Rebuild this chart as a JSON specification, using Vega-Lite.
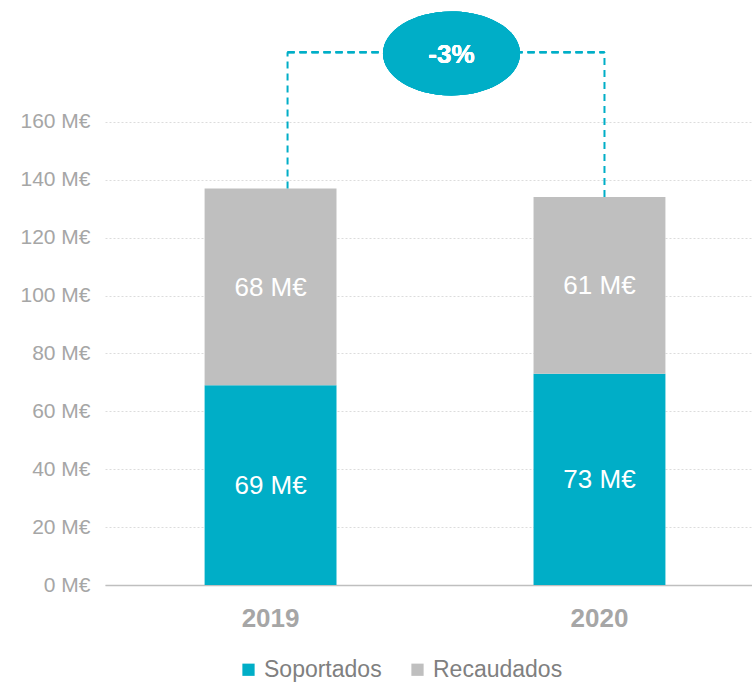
{
  "$schema": "https://vega.github.io/schema/vega-lite/v6.json",
  "autosize": {"type": "none"},
  "width": 647,
  "height": 579,
  "padding": {"left": 105, "top": 6, "right": 0, "bottom": 97},
  "background": "white",
  "config": {
    "font": "Liberation Sans",
    "view": {"stroke": null}
  },
  "data": {
    "values": [
      {"year": "2019", "serie": "Soportados", "value": 69},
      {"year": "2019", "serie": "Recaudados", "value": 68},
      {"year": "2020", "serie": "Soportados", "value": 73},
      {"year": "2020", "serie": "Recaudados", "value": 61}
    ]
  },
  "transform": [
    {"stack": "value", "groupby": ["year"], "sort": [{"field": "serie", "order": "descending"}], "as": ["y0", "y1"]},
    {"calculate": "(datum.y0 + datum.y1) / 2", "as": "mid"},
    {"calculate": "datum.value + ' M€'", "as": "label"}
  ],
  "encoding": {
    "x": {
      "field": "year", "type": "nominal",
      "scale": {"paddingInner": 0.599, "paddingOuter": 0.283, "align": 0.535},
      "axis": {
        "title": null, "labelAngle": 0, "labelFontSize": 26, "labelFontWeight": "bold",
        "labelColor": "#a6a6a6", "labelPadding": 20, "ticks": false,
        "domainColor": "#bfbfbf", "domainWidth": 1.5, "grid": false
      }
    }
  },
  "layer": [
    {
      "mark": {"type": "bar"},
      "encoding": {
        "y": {
          "field": "y0", "type": "quantitative",
          "scale": {"domain": [0, 200], "nice": false, "zero": true},
          "axis": {
            "title": null, "values": [0, 20, 40, 60, 80, 100, 120, 140, 160],
            "labelExpr": "datum.value + ' M€'", "labelFontSize": 21, "labelColor": "#a6a6a6",
            "labelPadding": 15, "ticks": false, "domain": false,
            "grid": true, "gridColor": "#dcdcdc", "gridDash": [2, 2], "gridWidth": 1
          }
        },
        "y2": {"field": "y1"},
        "color": {
          "field": "serie", "type": "nominal",
          "scale": {"domain": ["Soportados", "Recaudados"], "range": ["#00AEC7", "#BFBFBF"]},
          "legend": {
            "title": null, "orient": "none", "direction": "horizontal",
            "legendX": 132, "legendY": 652, "symbolType": "square", "symbolSize": 150,
            "symbolStrokeWidth": 0, "labelFontSize": 23, "labelColor": "#808080",
            "labelOffset": 4, "columnPadding": 24, "padding": 0
          }
        }
      }
    },
    {
      "mark": {"type": "text", "color": "white", "fontSize": 26, "baseline": "middle", "dy": 1},
      "encoding": {
        "y": {"field": "mid", "type": "quantitative"},
        "text": {"field": "label", "type": "nominal"},
        "detail": {"field": "serie"}
      }
    },
    {
      "transform": [{"filter": "datum.serie == 'Recaudados' && datum.year == '2019'"}],
      "mark": {"type": "rule", "color": "#00AEC7", "strokeWidth": 2, "strokeDash": [7, 5], "xOffset": 17},
      "encoding": {
        "y": {"field": "y1", "type": "quantitative"},
        "y2": {"datum": 184}
      }
    },
    {
      "transform": [{"filter": "datum.serie == 'Recaudados' && datum.year == '2020'"}],
      "mark": {"type": "rule", "color": "#00AEC7", "strokeWidth": 2, "strokeDash": [7, 5], "xOffset": 5},
      "encoding": {
        "y": {"field": "y1", "type": "quantitative"},
        "y2": {"datum": 184}
      }
    },
    {
      "mark": {"type": "rule", "color": "#00AEC7", "strokeWidth": 2, "strokeDash": [7, 5], "xOffset": 17, "x2Offset": 5},
      "encoding": {
        "x": {"datum": "2019"},
        "x2": {"datum": "2020"},
        "y": {"datum": 184}
      }
    },
    {
      "mark": {
        "type": "point", "filled": true, "color": "#00AEC7", "opacity": 1, "size": 18769, "xOffset": -148,
        "shape": "M -1 0 A 1 0.613 0 1 1 1 0 A 1 0.613 0 1 1 -1 0 Z"
      },
      "encoding": {
        "x": {"datum": "2020"},
        "y": {"datum": 183.6}
      }
    },
    {
      "mark": {"type": "text", "color": "white", "fontSize": 26, "fontWeight": "bold", "baseline": "middle", "xOffset": -148, "dy": 2},
      "encoding": {
        "x": {"datum": "2020"},
        "y": {"datum": 183.6},
        "text": {"value": "-3%"}
      }
    }
  ]
}
